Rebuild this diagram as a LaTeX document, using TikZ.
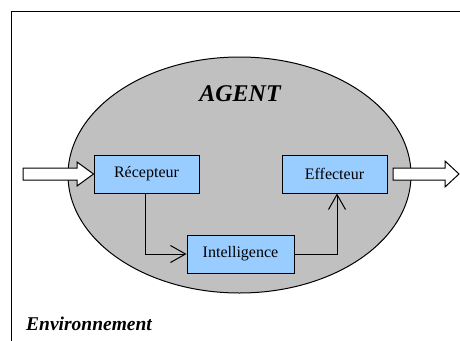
\documentclass[tikz,border=0pt]{standalone}
\usepackage{fontspec}
\setmainfont{Liberation Serif}
\usetikzlibrary{shapes.geometric,arrows.meta}
\definecolor{boxblue}{HTML}{99CCFF}
\definecolor{agentgray}{HTML}{C0C0C0}
\tikzset{
  unitbox/.style={draw=black, line width=1pt, fill=boxblue, minimum width=105pt, minimum height=38pt, inner sep=0pt, font=\fontsize{16}{18}\selectfont},
  flow/.style={draw=black, line width=1pt, -{Straight Barb[length=15pt,width=17pt,line width=1pt]}},
  hollow/.style={draw=black, line width=1pt, fill=white, line join=miter},
}
\begin{document}
\begin{tikzpicture}[x=1pt,y=-1pt]
\useasboundingbox (0,0) rectangle (460,340);
% environment frame
\draw[line width=1pt] (11,345) -- (11,11) -- (465,11);
% agent ellipse
\node[ellipse, draw=black, line width=1pt, fill=agentgray, minimum width=343pt, minimum height=236pt, inner sep=0pt] (agent) at (239.5,175) {};
\node[font=\fontsize{24}{28}\selectfont\bfseries\itshape] (agentlabel) at (240,94) {AGENT};
% boxes
\node[unitbox] (rec) at (146.5,174) {Récepteur};
\node[unitbox] (eff) at (334.5,174) {Effecteur};
\node[unitbox, minimum width=107pt] (intel) at (240.5,254) {Intelligence};
% connectors
\draw[flow] ([xshift=-1.5pt]rec.south) |- (intel.west);
\draw[flow] (intel.east) -| ([xshift=2.5pt]eff.south);
% input / output hollow arrows
\draw[hollow] (23,168) -- (77,168) -- (77,162) -- (rec.west) -- (77,186) -- (77,180) -- (23,180) -- cycle;
\coordinate (outtip) at (459,174);
\draw[hollow] (393,168) -- (445,168) -- (445,161) -- (outtip) -- (445,187) -- (445,180) -- (393,180) -- cycle;
% environment label
\node[anchor=base west, inner sep=0pt, font=\fontsize{19.5}{22}\selectfont\bfseries\itshape] (envlabel) at (26,330) {Environnement};
\end{tikzpicture}
\end{document}
